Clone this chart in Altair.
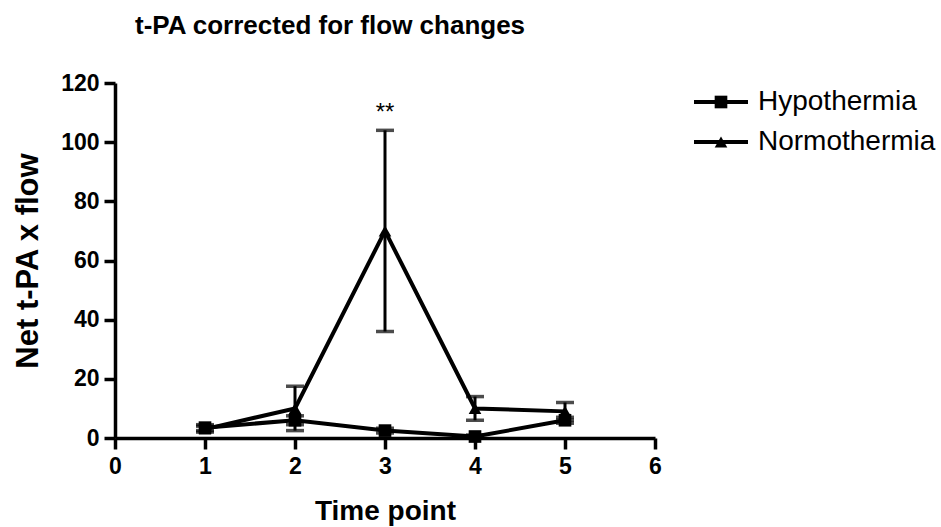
import altair as alt
import pandas as pd

time_points = [1, 2, 3, 4, 5]
hypo_mean = [3.5, 6.0, 2.5, 0.5, 6.0]
hypo_err = [1.0, 1.5, 0.8, 0.5, 1.0]
normo_mean = [3.0, 10.0, 70.0, 10.0, 9.0]
normo_err = [1.0, 7.5, 34.0, 4.0, 3.0]
groups = ["Hypothermia", "Normothermia"]
annot_x = [3]
annot_y = [110]
annot_text = ["**"]

FONT = "Liberation Sans"

rows = []
for g, m, e in [(groups[0], hypo_mean, hypo_err), (groups[1], normo_mean, normo_err)]:
    for t, mv, ev in zip(time_points, m, e):
        rows.append({"group": g, "time": t, "mean": mv, "lo": mv - ev, "hi": mv + ev})
df = pd.DataFrame(rows)
ann = pd.DataFrame({"time": annot_x, "mean": annot_y, "t": annot_text})

xs = alt.X("time:Q", scale=alt.Scale(domain=[0, 6], nice=False),
           axis=alt.Axis(values=[0, 1, 2, 3, 4, 5, 6], format="d", title="Time point"))
ys = alt.Y("mean:Q", scale=alt.Scale(domain=[0, 120], nice=False),
           axis=alt.Axis(values=[0, 20, 40, 60, 80, 100, 120], format="d", title="Net t-PA x flow"))

base = alt.Chart(df)

lines = base.mark_line(color="black", strokeWidth=4).encode(x=xs, y=ys, detail="group:N")
err = base.mark_rule(color="black", strokeWidth=3).encode(x=xs, y=alt.Y("lo:Q"), y2="hi:Q")
cap_hi = base.mark_tick(color="black", thickness=3.5, size=18, orient="horizontal").encode(x=xs, y=alt.Y("hi:Q"))
cap_lo = base.mark_tick(color="black", thickness=3.5, size=18, orient="horizontal").encode(x=xs, y=alt.Y("lo:Q"))
pts = base.mark_point(filled=True, color="black", opacity=1, size=160).encode(
    x=xs, y=ys,
    shape=alt.Shape("group:N", scale=alt.Scale(domain=groups, range=["square", "triangle-up"]), legend=None))
stars = alt.Chart(ann).mark_text(font=FONT, fontSize=24, color="black", baseline="middle").encode(
    x=xs, y=ys, text="t:N")

# manual legend (line + marker + label)
leg_layers = []
for i, (g, shp) in enumerate(zip(groups, ["square", "triangle-up"])):
    yy = 19 + 40 * i
    ld = pd.DataFrame({"label": [g]})
    lc = alt.Chart(ld)
    leg_layers.append(lc.mark_rule(color="black", strokeWidth=4).encode(
        x=alt.value(579), x2=alt.value(633), y=alt.value(yy)))
    leg_layers.append(lc.mark_point(filled=True, color="black", opacity=1, size=160, shape=shp).encode(
        x=alt.value(606), y=alt.value(yy)))
    leg_layers.append(lc.mark_text(font=FONT, fontSize=28, color="black", align="left", baseline="middle").encode(
        x=alt.value(643), y=alt.value(yy), text="label:N"))

chart = alt.layer(lines, err, cap_hi, cap_lo, pts, stars, *leg_layers).properties(
    width=540, height=355,
    autosize="none",
    padding={"left": 115, "top": 83, "right": 286, "bottom": 89},
    title=alt.Title("t-PA corrected for flow changes", font=FONT, fontSize=26, fontWeight="bold",
                    anchor="start", frame="group", dx=20, offset=33, color="black"),
).configure(background="white").configure_view(stroke=None).configure_axis(
    grid=False,
    labelFont=FONT, labelFontSize=23, labelFontWeight="bold", labelColor="black",
    titleFont=FONT, titleFontWeight="bold", titleColor="black",
    domainWidth=3.5, domainColor="black", tickWidth=3.5, tickColor="black", tickSize=11,
    labelFlush=False,
).configure_axisX(titlePadding=19, labelPadding=6, titleFontSize=28).configure_axisY(
    titlePadding=16, labelPadding=5, titleFontSize=31)

chart.save("out.html", embed_options={"renderer": "svg", "actions": False})
